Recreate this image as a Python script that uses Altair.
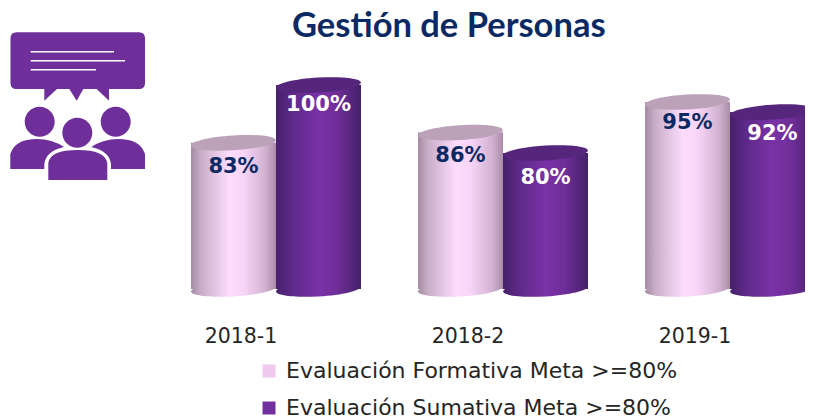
import altair as alt
import pandas as pd

TITLE = "Gestión de Personas"
PERIODS = ["2018-1", "2018-2", "2019-1"]
FORMATIVA = "Evaluación Formativa Meta >=80%"
SUMATIVA = "Evaluación Sumativa Meta >=80%"
SERIES = [FORMATIVA, SUMATIVA]
VALUES_FORMATIVA = [83, 86, 95]
VALUES_SUMATIVA = [100, 80, 92]
BASE = 40

rows = []
for p, f, s in zip(PERIODS, VALUES_FORMATIVA, VALUES_SUMATIVA):
    rows.append({"period": p, "series": FORMATIVA, "value": f, "base": BASE, "label": f"{f}%"})
    rows.append({"period": p, "series": SUMATIVA, "value": s, "base": BASE, "label": f"{s}%"})
df = pd.DataFrame(rows)

ELLIPSE = "M-1,0 A1,0.175 0 1 1 1,0 A1,0.175 0 1 1 -1,0 Z"
BAR_SIZE = 85 ** 2
TILT = 356.5


def grad(stops):
    return alt.Gradient(
        gradient="linear", x1=0, x2=1, y1=0, y2=0,
        stops=[alt.GradientStop(offset=o, color=c) for o, c in stops],
    )


GRAD_F = grad([(0, "#a48aa2"), (0.12, "#c9aec8"), (0.45, "#fddcfd"), (0.62, "#f8d5f8"), (0.88, "#d0b0cf"), (1, "#a98ba7")])
GRAD_S = grad([(0, "#47206b"), (0.2, "#5e2a8a"), (0.5, "#7a32a6"), (0.72, "#6f2e98"), (1, "#44206a")])

x = alt.X(
    "period:N", sort=PERIODS, title=None,
    scale=alt.Scale(range=[183, 807], paddingInner=0.2511, paddingOuter=0),
    axis=alt.Axis(
        domain=False, ticks=False, grid=False, labelAngle=0, labelFont="DejaVu Sans",
        labelFontSize=20.5, labelColor="#262626", labelPadding=6, labelOffset=-35,
    ),
)
xo = alt.XOffset("series:N", sort=SERIES, scale=alt.Scale(domain=SERIES, paddingInner=0, paddingOuter=0))
y_scale = alt.Scale(domain=[40, 100], range=[241, 37], nice=False, zero=False)
y = alt.Y("value:Q", title=None, axis=None, scale=y_scale)
ybase = alt.Y("base:Q", title=None, axis=None, scale=y_scale)
y_label = alt.Y("value:Q", title=None, axis=None, scale=alt.Scale(domain=[80, 100], range=[130, 57], nice=False, zero=False))

base_chart = alt.Chart(df)
legend_bars = base_chart.mark_bar().encode(
    x=x, xOffset=xo, y=y, y2="base:Q",
    color=alt.Color(
        "series:N", sort=SERIES,
        scale=alt.Scale(domain=SERIES, range=["#f0c9f0", "#7030a0"]),
        legend=alt.Legend(
            title=None, orient="none", legendX=250, legendY=312, symbolType="square", symbolSize=169,
            symbolStrokeWidth=0, labelFont="DejaVu Sans", labelFontSize=22, labelColor="#262626",
            rowPadding=15, labelLimit=500, labelOffset=6,
        ),
    ),
)


def series_layers(name, gradient, top):
    data = base_chart.transform_filter(alt.datum.series == name)
    bottom = data.mark_point(shape=ELLIPSE, size=BAR_SIZE, filled=True, opacity=1, fill=gradient, angle=TILT).encode(
        x=x, xOffset=xo, y=ybase
    )
    body = data.mark_bar(fill=gradient).encode(x=x, xOffset=xo, y=y, y2="base:Q")
    cap = data.mark_point(shape=ELLIPSE, size=BAR_SIZE, filled=True, opacity=1, fill=top, angle=TILT).encode(
        x=x, xOffset=xo, y=y
    )
    return [bottom, body, cap]


def text_layer(name, color):
    return base_chart.transform_filter(alt.datum.series == name).mark_text(
        font="DejaVu Sans", fontWeight="bold", fontSize=21, color=color
    ).encode(x=x, xOffset=xo, y=y_label, text="label:N")


# Icon: path coordinates are in picture pixels (origin shifted by the chart's margins).
ICON_FILL = "#6f2f9a"
BUBBLE = (
    "M16.5,32.3 H139 Q145,32.3 145,38.3 V83 Q145,89 139,89 H109 V100.7 L96.7,89 H83.3 L76.7,100.7 L69.3,89 "
    "H57 L44.3,100.7 V89 H16.5 Q10.5,89 10.5,83 V38.3 Q10.5,32.3 16.5,32.3 Z"
)
TEXT_LINES = "M30.7,51 H114 V52.4 H30.7 Z M30.7,60 H125 V61.4 H30.7 Z M30.7,69 H96 V70.4 H30.7 Z"


def circle(cx, cy, r):
    return f"M{cx - r},{cy} A{r},{r} 0 1 1 {cx + r},{cy} A{r},{r} 0 1 1 {cx - r},{cy} Z"


PEOPLE = (
    circle(39.7, 121.7, 15) + circle(77.3, 132.7, 15) + circle(115.7, 121.7, 15)
    + "M10.3,169 V154 Q15,139 37,139 Q52,139 64,147 Q46,151 44.3,164 V169 Z"
    + "M145,169 V154 Q140.3,139 118.3,139 Q103.3,139 91.3,147 Q109.3,151 111,164 V169 Z"
    + "M48.3,180 V163 Q50,150 78,150 Q105,150 107.3,163 V180 Z"
)


def icon(path, color):
    return alt.Chart(df.head(1)).mark_point(shape=path, size=4, filled=True, opacity=1, fill=color, strokeWidth=0).encode(
        x=alt.value(-8), y=alt.value(-48)
    )


layers = [legend_bars]
layers += series_layers(FORMATIVA, GRAD_F, "#bca2b9")
layers += series_layers(SUMATIVA, GRAD_S, "#55267c")
layers += [text_layer(FORMATIVA, "#0b2a63"), text_layer(SUMATIVA, "#ffffff")]
layers += [icon(BUBBLE, ICON_FILL), icon(TEXT_LINES, "#ffffff"), icon(PEOPLE, ICON_FILL)]

chart = (
    alt.layer(*layers)
    .resolve_scale(y="independent")
    .properties(
        width=797, height=272,
        autosize=alt.AutoSizeParams(type="none"),
        padding={"left": 0, "top": 40, "right": 0, "bottom": 98},
        title=alt.TitleParams(
            TITLE, font="Lato", fontWeight="bold", fontSize=34.5, color="#0b2a63",
            anchor="start", dx=284, offset=-12,
        ),
    )
    .configure_view(stroke=None)
)

chart.save("out.html", embed_options={"renderer": "svg", "actions": False})
